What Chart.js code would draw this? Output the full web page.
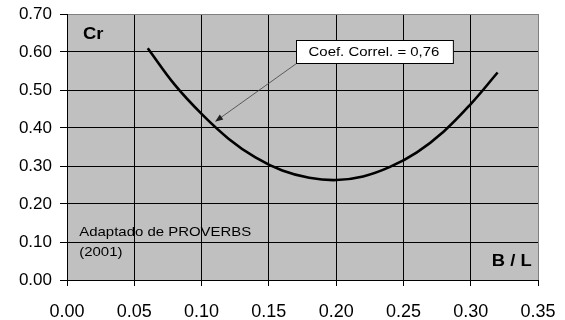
<!DOCTYPE html>
<html>
<head>
<meta charset="utf-8">
<script src="https://cdn.jsdelivr.net/npm/chart.js@4/dist/chart.umd.min.js"></script>
<style>
  html, body { margin: 0; padding: 0; background: #fff; }
  #wrap { width: 565px; height: 320px; }
</style>
</head>
<body>
<div id="wrap"><canvas id="chart" width="565" height="320"></canvas></div>
<script>
// curve (B/L -> Cr)
const ratioBL = [0.06, 0.08, 0.10, 0.12, 0.14, 0.16, 0.18, 0.20, 0.22, 0.24, 0.26, 0.28, 0.30, 0.32];
const crValues = [0.61, 0.514, 0.437, 0.372, 0.3225, 0.288, 0.269, 0.263, 0.2725, 0.2976, 0.336, 0.391, 0.463, 0.546];

const xTicks = [0, 0.05, 0.10, 0.15, 0.20, 0.25, 0.30, 0.35];
const yTicks = [0, 0.10, 0.20, 0.30, 0.40, 0.50, 0.60, 0.70];

const yTitle = "Cr";
const xTitle = "B / L";
const sourceLines = ["Adaptado de PROVERBS", "(2001)"];
const correlLabel = "Coef. Correl. = 0,76";
// where the label box sits and where its arrow points (data units)
const correlBoxAt = [0.2281, 0.601];
const correlArrowTo = [0.110, 0.4166];

const FONT = "'Liberation Sans', Arial, sans-serif";
const STRETCH = 1.15;

function near(a, b) { return Math.abs(a - b) < 1e-6; }

function stretchedText(ctx, text, x, y, align) {
  const w = ctx.measureText(text).width * STRETCH;
  let left = x;
  if (align === "right") left = x - w;
  if (align === "center") left = x - w / 2;
  ctx.save();
  ctx.translate(left, y);
  ctx.scale(STRETCH, 1);
  ctx.textAlign = "left";
  ctx.fillText(text, 0, 0);
  ctx.restore();
  return w;
}

const extras = {
  id: "extras",
  beforeDraw(chart) {
    const { ctx, chartArea: a } = chart;
    ctx.save();
    ctx.fillStyle = "#c0c0c0";
    ctx.fillRect(a.left, a.top, a.right - a.left, a.bottom - a.top);
    ctx.restore();
  },
  afterDraw(chart) {
    const ctx = chart.ctx;
    const xs = chart.scales.x, ys = chart.scales.y;
    ctx.save();
    ctx.fillStyle = "#000";
    ctx.textBaseline = "alphabetic";

    ctx.font = "bold 16px " + FONT;
    stretchedText(ctx, yTitle, xs.getPixelForValue(0.0119), ys.getPixelForValue(0.634), "left");
    stretchedText(ctx, xTitle, xs.getPixelForValue(0.3453), ys.getPixelForValue(0.0358), "right");

    ctx.font = "13px " + FONT;
    stretchedText(ctx, sourceLines[0], xs.getPixelForValue(0.0091), ys.getPixelForValue(0.1147), "left");
    stretchedText(ctx, sourceLines[1], xs.getPixelForValue(0.0091), ys.getPixelForValue(0.062), "left");

    // label box with arrow
    const cx = xs.getPixelForValue(correlBoxAt[0]);
    const cy = ys.getPixelForValue(correlBoxAt[1]);
    const tw = ctx.measureText(correlLabel).width * STRETCH;
    const bw = tw + 26, bh = 23;
    const bx = Math.round(cx - bw / 2) + 0.5, by = Math.round(cy - bh / 2) + 0.5;

    const tx = xs.getPixelForValue(correlArrowTo[0]);
    const ty = ys.getPixelForValue(correlArrowTo[1]);
    const sx = bx, sy = by + bh;
    const ang = Math.atan2(ty - sy, tx - sx);
    ctx.strokeStyle = "#404040";
    ctx.lineWidth = 0.8;
    ctx.beginPath();
    ctx.moveTo(sx, sy);
    ctx.lineTo(tx - Math.cos(ang) * 5, ty - Math.sin(ang) * 5);
    ctx.stroke();
    ctx.fillStyle = "#202020";
    ctx.beginPath();
    ctx.moveTo(tx, ty);
    ctx.lineTo(tx - Math.cos(ang) * 8 + Math.sin(ang) * 3, ty - Math.sin(ang) * 8 - Math.cos(ang) * 3);
    ctx.lineTo(tx - Math.cos(ang) * 8 - Math.sin(ang) * 3, ty - Math.sin(ang) * 8 + Math.cos(ang) * 3);
    ctx.closePath();
    ctx.fill();

    ctx.fillStyle = "#fff";
    ctx.fillRect(bx, by, bw, bh);
    ctx.strokeStyle = "#000";
    ctx.lineWidth = 1;
    ctx.strokeRect(bx, by, bw, bh);
    ctx.fillStyle = "#000";
    ctx.textBaseline = "middle";
    stretchedText(ctx, correlLabel, cx, cy + 1, "center");
    ctx.restore();
  }
};

const ctx = document.getElementById("chart").getContext("2d");
new Chart(ctx, {
  type: "scatter",
  data: {
    datasets: [{
      data: ratioBL.map((x, i) => ({ x: x, y: crValues[i] })),
      showLine: true,
      borderColor: "#000",
      borderWidth: 2.6,
      pointRadius: 0,
      tension: 0.4,
      fill: false
    }]
  },
  options: {
    responsive: false,
    animation: false,
    layout: { padding: { top: 14, right: 27, left: 0, bottom: 0 } },
    plugins: { legend: { display: false }, tooltip: { enabled: false } },
    scales: {
      x: {
        type: "linear",
        min: 0, max: 0.35,
        afterBuildTicks: (s) => { s.ticks = xTicks.map(v => ({ value: v })); },
        afterFit: (s) => { s.height = 40; s.paddingLeft = 0; s.paddingRight = 0; },
        ticks: {
          callback: (v) => Number(v).toFixed(2),
          color: "#000",
          font: { family: FONT, size: 18 },
          padding: 15,
          maxRotation: 0,
          autoSkip: false
        },
        grid: {
          color: (c) => (c.tick && near(c.tick.value, 0.35)) ? "#808080" : "#000",
          tickColor: "#000",
          tickLength: 6,
          lineWidth: 1
        },
        border: { color: "#000", width: 1 }
      },
      y: {
        type: "linear",
        min: 0, max: 0.7,
        afterBuildTicks: (s) => { s.ticks = yTicks.map(v => ({ value: v })); },
        afterFit: (s) => { s.width = 67; s.paddingTop = 0; s.paddingBottom = 0; },
        ticks: {
          callback: (v) => Number(v).toFixed(2),
          color: "#000",
          font: { family: FONT, size: 17 },
          padding: 8
        },
        grid: {
          color: (c) => (c.tick && near(c.tick.value, 0.7)) ? "#808080" : "#000",
          tickColor: "#000",
          tickLength: 7,
          lineWidth: 1
        },
        border: { color: "#000", width: 1 }
      }
    }
  },
  plugins: [extras]
});
</script>
</body>
</html>
